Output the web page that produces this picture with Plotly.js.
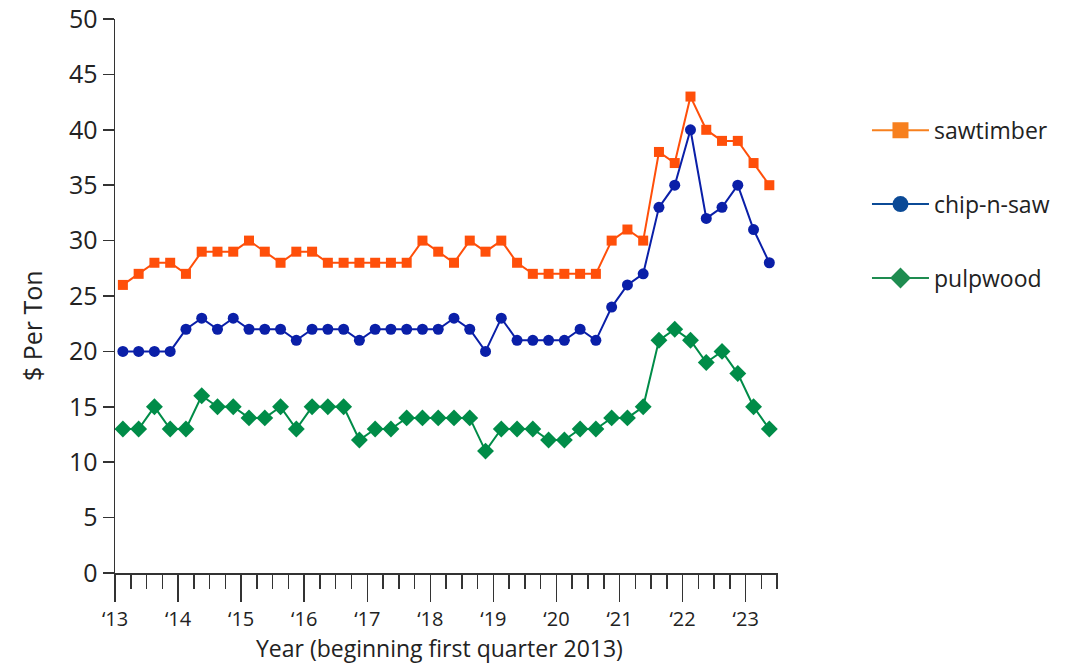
<!DOCTYPE html>
<html>
<head>
<meta charset="utf-8">
<script src="https://cdn.plot.ly/plotly-3.0.1.min.js"></script>
<style>html,body{margin:0;padding:0;background:#fff;}#chart{width:1066px;height:665px;}</style>
</head>
<body>
<div id="chart"></div>
<script>
// Quarterly prices, Q1 2013 .. Q2 2023
const startYear = 2013;
const yearLabels = ["‘13","‘14","‘15","‘16","‘17","‘18","‘19","‘20","‘21","‘22","‘23"];
const seriesNames = ["sawtimber", "chip-n-saw", "pulpwood"];
const xTitle = "Year (beginning first quarter 2013)";
const yTitle = "$ Per Ton";
const sawtimber = [26,27,28,28,27,29,29,29,30,29,28,29,29,28,28,28,28,28,28,30,29,28,30,29,30,28,27,27,27,27,27,30,31,30,38,37,43,40,39,39,37,35];
const chipNSaw  = [20,20,20,20,22,23,22,23,22,22,22,21,22,22,22,21,22,22,22,22,22,23,22,20,23,21,21,21,21,22,21,24,26,27,33,35,40,32,33,35,31,28];
const pulpwood  = [13,13,15,13,13,16,15,15,14,14,15,13,15,15,15,12,13,13,14,14,14,14,14,11,13,13,13,12,12,13,13,14,14,15,21,22,21,19,20,18,15,13];

// x in quarters since Q1 2013, points at mid-quarter
const xq = sawtimber.map((_, i) => i + 0.5);
const tickPos = yearLabels.map((_, i) => i * 4);

const FONT = "'Open Sans', 'Noto Sans', sans-serif";
const TXT = "#222";
const AX = "#333";

const lineColors = ['#FF4F0A', '#0A1FA8', '#008C48'];
const legendColors = ['#F7801E', '#0B4A96', '#1E8C50'];
const symbols = ['square', 'circle', 'diamond'];
const sizes = [10, 11, 13];
const legendSizes = [16, 16, 16];
const values = [sawtimber, chipNSaw, pulpwood];

const data = [];
values.forEach((y, k) => {
  data.push({
    type: 'scatter', mode: 'lines+markers', name: seriesNames[k], x: xq, y: y,
    line: {color: lineColors[k], width: 2},
    marker: {color: lineColors[k], symbol: symbols[k], size: sizes[k]},
    showlegend: false
  });
});
values.forEach((y, k) => {
  data.push({
    type: 'scatter', mode: 'lines+markers', name: seriesNames[k], x: [null], y: [null],
    line: {color: legendColors[k], width: 2},
    marker: {color: legendColors[k], symbol: symbols[k], size: legendSizes[k]},
    legendgroup: 'g' + k, showlegend: true
  });
});

const layout = {
  width: 1066, height: 665,
  margin: {l: 115, r: 287, t: 19, b: 92},
  paper_bgcolor: '#fff', plot_bgcolor: '#fff',
  font: {family: FONT, color: TXT, size: 19},
  showlegend: true,
  legend: {
    x: 1.1325, xanchor: 'left', y: 0.838, yanchor: 'top',
    font: {family: FONT, size: 23, color: TXT},
    tracegroupgap: 41, itemwidth: 57
  },
  xaxis: {
    range: [0, 42.05], showgrid: false, zeroline: false,
    showline: true, linecolor: AX, linewidth: 1.5,
    tickmode: 'array', tickvals: tickPos, ticktext: yearLabels,
    ticks: 'outside', ticklen: 27, tickwidth: 1.5, tickcolor: AX,
    tickfont: {size: 20, family: FONT, color: TXT},
    minor: {tickmode: 'linear', tick0: 0, dtick: 1, ticks: 'outside', ticklen: 14, tickwidth: 1.5, tickcolor: AX, showgrid: false},
    automargin: false, fixedrange: true
  },
  yaxis: {
    range: [0, 50], dtick: 5, tick0: 0, showgrid: false, zeroline: false,
    showline: true, linecolor: AX, linewidth: 1.5,
    ticks: 'outside', ticklen: 11, tickwidth: 1.5, tickcolor: AX,
    tickfont: {size: 25, family: FONT, color: TXT},
    automargin: false, fixedrange: true
  },
  annotations: [
    {text: xTitle, xref: 'paper', yref: 'paper', x: 0.489, y: (573 - 648) / 554, xanchor: 'center', yanchor: 'middle',
     showarrow: false, borderpad: 0, font: {size: 23, family: FONT, color: TXT}},
    {text: yTitle, xref: 'paper', yref: 'paper', x: (32 - 115) / 664, y: 0.446, xanchor: 'center', yanchor: 'middle',
     textangle: -90, showarrow: false, borderpad: 0, font: {size: 25, family: FONT, color: TXT}}
  ]
};

Plotly.newPlot('chart', data, layout, {displayModeBar: false, staticPlot: true});
</script>
</body>
</html>
